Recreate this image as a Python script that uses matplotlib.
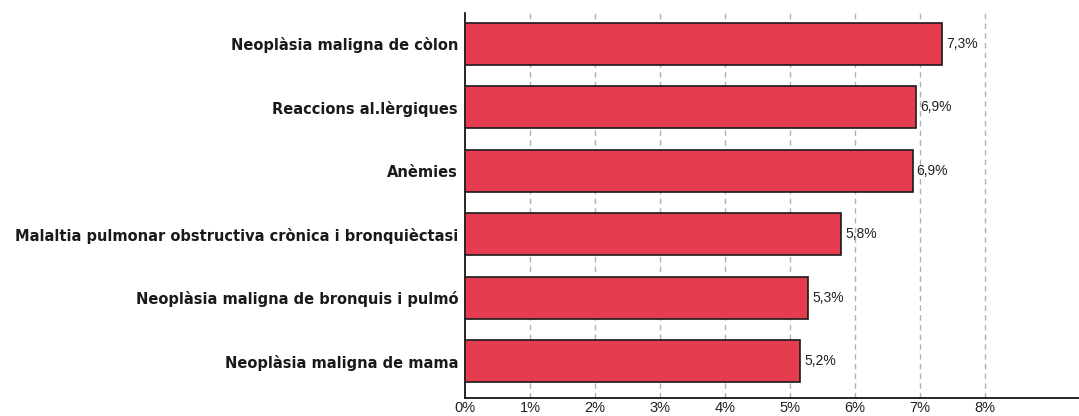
import matplotlib.pyplot as plt

# dades
categories = ['Neoplàsia maligna de còlon', 'Reaccions al.lèrgiques', 'Anèmies',
              'Malaltia pulmonar obstructiva crònica i bronquièctasi',
              'Neoplàsia maligna de bronquis i pulmó', 'Neoplàsia maligna de mama']
values = [7.34, 6.94, 6.89, 5.79, 5.28, 5.16]
xticks = [0, 1, 2, 3, 4, 5, 6, 7, 8]

plt.rcParams['font.family'] = ['Liberation Sans', 'DejaVu Sans']

fig = plt.figure(figsize=(10.79, 4.16), dpi=100)
ax = fig.add_axes([0.431, 0.0433, 0.569, 0.9257])

pos = list(range(len(categories)))
ax.barh(pos, values, height=0.66, color='#E53D4F', edgecolor='#1a1a1a', linewidth=1.2, zorder=3)
for p, v in zip(pos, values):
    ax.text(v + 0.06, p, ('%.1f%%' % v).replace('.', ','), va='center', ha='left',
            fontsize=10, color='#222222', zorder=4)

ax.set_ylim(5.58, -0.49)
ax.set_xlim(0, 9.45)
ax.set_yticks(pos)
ax.set_yticklabels(categories, fontsize=10.5, fontweight='bold', family='DejaVu Sans', color='#1a1a1a')
ax.set_xticks(xticks)
ax.set_xticklabels(['%d%%' % t for t in xticks], fontsize=10.5, color='#222222')
ax.tick_params(axis='y', length=0, pad=5)
ax.tick_params(axis='x', length=0, pad=2)
for t in xticks[1:]:
    ax.axvline(t, color='#b0b0b0', linestyle=(0, (4, 3)), linewidth=1, zorder=1)

ax.spines['top'].set_visible(False)
ax.spines['right'].set_visible(False)
ax.spines['left'].set_linewidth(1.2)
ax.spines['bottom'].set_linewidth(1.2)

fig.savefig('out.png', dpi=100)
